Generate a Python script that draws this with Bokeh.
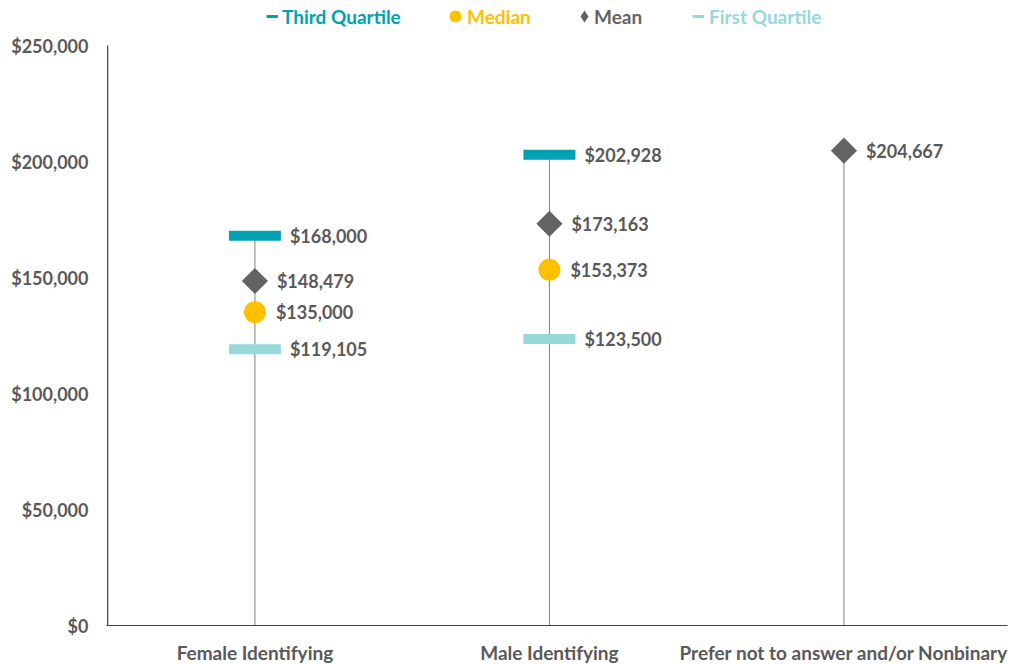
import math
from bokeh.plotting import figure
from bokeh.models import (Range1d, FixedTicker, NumeralTickFormatter, Legend, LegendItem)
from bokeh.core.properties import value
from bokeh.embed import file_html
from bokeh.resources import INLINE

nan = float("nan")
categories = ["Female Identifying", "Male Identifying", "Prefer not to answer and/or Nonbinary"]
third_quartile = [168000, 202928, nan]
median = [135000, 153373, nan]
mean = [148479, 173163, 204667]
first_quartile = [119105, 123500, nan]
y_ticks = [0, 50000, 100000, 150000, 200000, 250000]

C_Q3 = "#00A2B1"
C_MED = "#FFC000"
C_MEAN = "#636363"
C_Q1 = "#97D8D8"
C_TXT = "#595959"
C_AXIS = "#404040"
FONT = "Lato"

# layout (pixels)
FRAME_W, FRAME_H = 901, 625
AXIS_TOP_PX = 45          # distance from frame top down to the top tick
CAT_STEP_PX = 294.5
Y_MAX = max(y_ticks)
Y_END = Y_MAX * FRAME_H / (FRAME_H - AXIS_TOP_PX)
X_START = -0.004
X_END = X_START + FRAME_W / CAT_STEP_PX

xs = [i + 0.5 for i in range(len(categories))]

p = figure(frame_width=FRAME_W, frame_height=FRAME_H, output_backend="svg", toolbar_location=None,
           x_range=Range1d(X_START, X_END), y_range=Range1d(0, Y_END),
           min_border_left=106, min_border_right=4, min_border_top=0, min_border_bottom=35)
p.outline_line_color = None
p.grid.visible = False
p.background_fill_color = "white"

# axes
p.xaxis.ticker = FixedTicker(ticks=xs)
p.xaxis.major_label_overrides = {x: c for x, c in zip(xs, categories)}
p.yaxis.ticker = FixedTicker(ticks=y_ticks)
p.yaxis.formatter = NumeralTickFormatter(format="$0,0")
for ax in (p.xaxis, p.yaxis):
    ax.major_tick_line_color = None
    ax.minor_tick_line_color = None
    ax.major_tick_out = 0
    ax.major_tick_in = 0
    ax.minor_tick_out = 0
    ax.minor_tick_in = 0
    ax.major_label_text_font = FONT
    ax.major_label_text_font_style = "bold"
    ax.major_label_text_color = C_TXT
p.yaxis.major_label_text_font_size = "18px"
p.xaxis.major_label_text_font_size = "19px"
p.xaxis.axis_line_color = C_AXIS
p.xaxis.axis_line_width = 1
p.yaxis.axis_line_color = None
p.xaxis.major_label_standoff = 15
p.yaxis.major_label_standoff = 18

# y axis line only up to the top tick
p.segment(x0=[0], y0=[0], x1=[0], y1=[Y_MAX], line_color=C_AXIS, line_width=1.2)

def fmt(v):
    return "${:,.0f}".format(v)

# vertical lines
tops = [max(v for v in vals if not math.isnan(v))
        for vals in zip(third_quartile, median, mean, first_quartile)]
p.segment(x0=xs, y0=[0] * len(xs), x1=xs, y1=tops, line_color="#808080", line_width=1)

def valid(vals):
    return [(x, v) for x, v in zip(xs, vals) if not math.isnan(v)]

# quartile bars
for vals, col in ((third_quartile, C_Q3), (first_quartile, C_Q1)):
    pts = valid(vals)
    p.rect(x=[a for a, _ in pts], y=[b for _, b in pts], width=52, height=10,
           width_units="screen", height_units="screen", fill_color=col, line_color=None)

pts = valid(mean)
p.scatter(x=[a for a, _ in pts], y=[b for _, b in pts], marker="square", size=18.5,
          angle=math.pi / 4, fill_color=C_MEAN, line_color=None)
pts = valid(median)
p.scatter(x=[a for a, _ in pts], y=[b for _, b in pts], marker="circle", size=22,
          fill_color=C_MED, line_color=None)

# data labels
for vals, off in ((third_quartile, 35), (first_quartile, 35), (mean, 22), (median, 21)):
    pts = valid(vals)
    p.text(x=[a for a, _ in pts], y=[b for _, b in pts], text=[fmt(b) for _, b in pts],
           x_offset=off, text_baseline="middle", text_align="left",
           text_font=value(FONT), text_font_style="bold", text_font_size="18px",
           text_color=C_TXT)

# legend swatches (dummy renderers placed outside the visible range)
r_q3 = p.line(x=[-10, -9], y=[-10, -10], line_color=C_Q3, line_width=3)
r_med = p.scatter(x=[-10], y=[-10], marker="circle", size=12, fill_color=C_MED, line_color=None)
r_mean = p.scatter(x=[-10], y=[-10], marker="diamond", size=12,
                   fill_color=C_MEAN, line_color=None)
r_q1 = p.line(x=[-10, -9], y=[-10, -10], line_color=C_Q1, line_width=3)
r_blank = p.scatter(x=[-10], y=[-10], size=1, fill_alpha=0, line_alpha=0)

LEG_H = 30
LEG_CY = FRAME_H - 16

def add_legend(label, r, col, w, lx, so):
    lg = Legend(items=[LegendItem(label=label, renderers=[r])],
                location=(lx, LEG_CY - LEG_H / 2), orientation="horizontal",
                glyph_width=w, glyph_height=LEG_H, label_height=LEG_H, label_standoff=so,
                padding=0, margin=0, spacing=0,
                border_line_color=None, background_fill_alpha=0,
                label_text_font=FONT, label_text_font_style="bold",
                label_text_font_size="19px", label_text_color=col)
    p.add_layout(lg, "center")

# swatch legends (px from frame left)
add_legend("Third Quartile", r_q3, C_Q3, 12, 160, 4)
add_legend(" ", r_med, C_MED, 30, 334, 0)
add_legend(" ", r_mean, C_MEAN, 32, 462, 0)
add_legend("First Quartile", r_q1, C_Q1, 12, 586, 5)
# text-only legends
add_legend("Median", r_blank, C_MED, 0, 361, 0)
add_legend("Mean", r_blank, C_MEAN, 0, 488, 0)

open("out.html", "w").write(file_html(p, INLINE))
